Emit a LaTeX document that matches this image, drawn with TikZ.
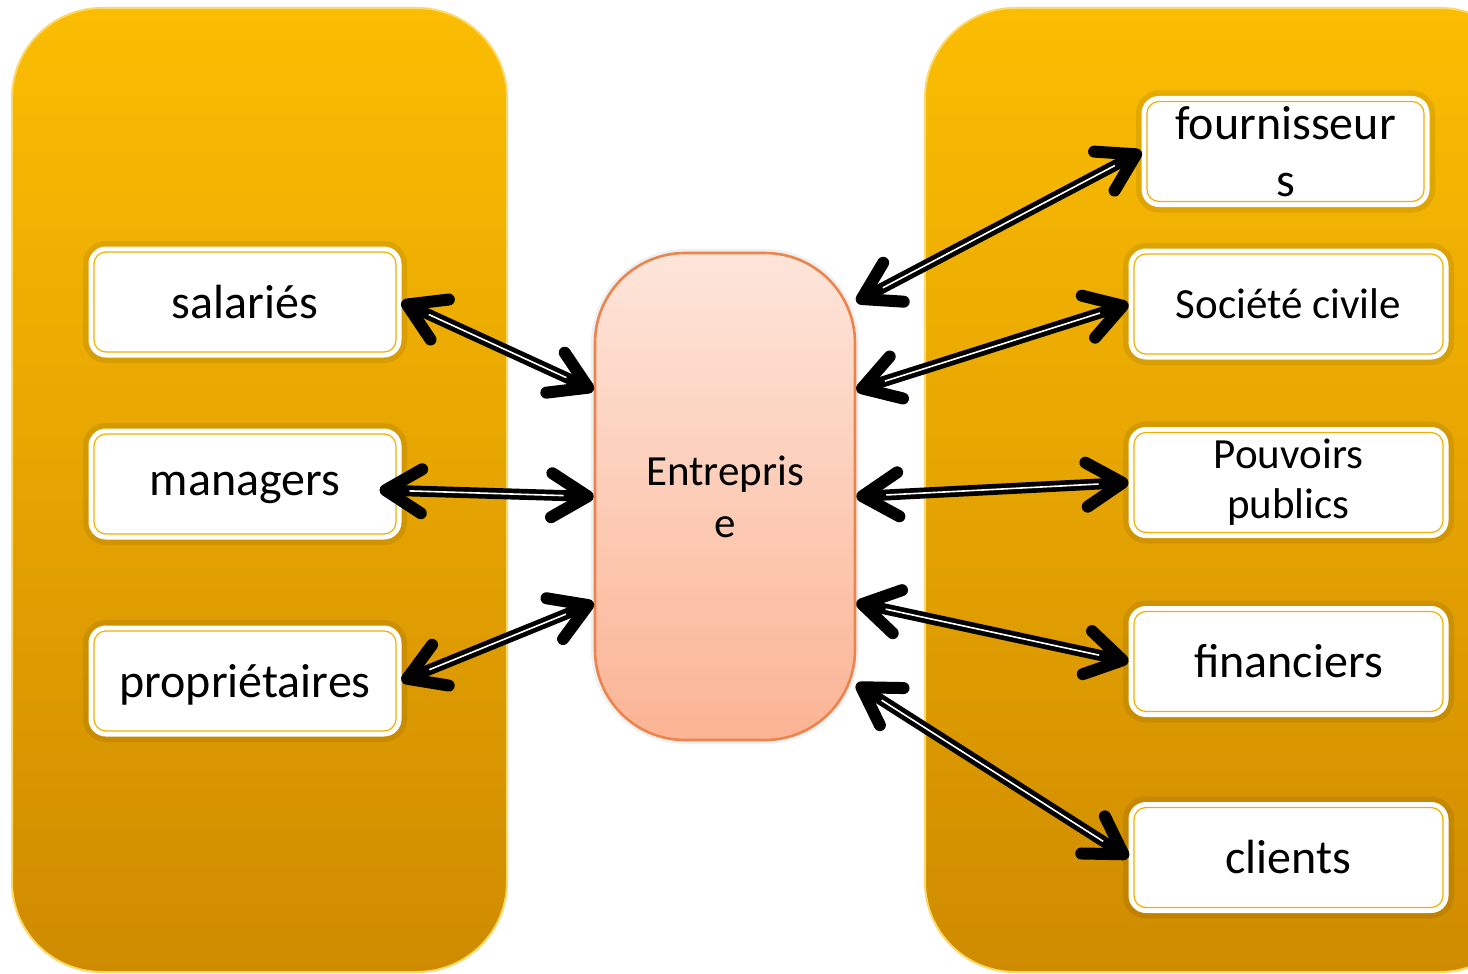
\documentclass[tikz,border=0pt]{standalone}
\usepackage{fontspec}
\setmainfont{Carlito}
\usetikzlibrary{arrows.meta}

\definecolor{panelTop}{RGB}{251,189,2}
\definecolor{panelBot}{RGB}{207,139,0}
\definecolor{boxLine}{RGB}{240,176,0}
\definecolor{entTop}{RGB}{253,229,218}
\definecolor{entBot}{RGB}{251,180,148}
\definecolor{entLine}{RGB}{236,132,78}

\newcommand{\bigtxt}{\fontsize{24}{28.5}\selectfont}
\newcommand{\midtxt}{\fontsize{21.5}{25}\selectfont}

\begin{document}
\begin{tikzpicture}[x=0.5pt, y=-0.5pt,
    panel/.style={top color=panelTop, bottom color=panelBot,
                  draw=panelTop!60!white, line width=1pt, rounded corners=45pt},
    box/.style={rectangle, rounded corners=8pt, fill=white, draw=white,
                line width=1.5pt, minimum height=54pt, align=center, font=\bigtxt,
                preaction={draw=black, draw opacity=.08, line width=7pt},
                path picture={\draw[boxLine, line width=.6pt, rounded corners=6pt]
                  ([shift={(2pt,-2pt)}]path picture bounding box.north west) rectangle
                  ([shift={(-2pt,2pt)}]path picture bounding box.south east);}},
    ent/.style={rectangle, rounded corners=45pt, top color=entTop, bottom color=entBot,
                draw=entLine, line width=1.3pt, minimum width=130pt, minimum height=243.5pt,
                align=center, font=\fontsize{21.5}{26}\selectfont,
                preaction={draw=black, draw opacity=.06, line width=4pt}},
    link/.style={draw=black, line width=5.5pt,
                 {Straight Barb[length=18pt,width=22pt,line width=6pt,round]}-{Straight Barb[length=18pt,width=22pt,line width=6pt,round]},
                 postaction={draw=white, line width=.8pt, shorten <=15pt, shorten >=15pt, arrows=-}}]

\useasboundingbox (0,0) rectangle (1468,974);
\clip (0,0) rectangle (1468,974);
\fill[white] (0,0) rectangle (1468,974);

% the two stakeholder panels
\path[panel] (12,8) rectangle (507,972);
\path[panel] (925,8) rectangle (1530,972);

% Entreprise in the middle
\node[ent] (ent) at (725,496.5) {Entrepris\\e};

% left side
\node[box, minimum width=155pt] (sal) at (245,302) {salariés};
\node[box, minimum width=155pt, text depth=0pt] (man) at (245,484) {managers};
\node[box, minimum width=155pt, text depth=0pt] (pro) at (245,681) {propriétaires};

% right side
\node[box, minimum width=142.5pt] (fou) at (1285.5,151.5) {fournisseur\\s};
\node[box, minimum width=158.5pt, font=\midtxt] (soc) at (1288.5,304) {Société civile};
\node[box, minimum width=158.5pt, font=\midtxt] (pou) at (1288.5,482.5) {Pouvoirs\\publics};
\node[box, minimum width=158.5pt] (fin) at (1288.5,661.5) {financiers};
\node[box, minimum width=158.5pt] (cli) at (1288.5,857.5) {clients};

\foreach \from/\to in {sal.east/ent.141, pro.east/ent.219,
                       ent.56/fou.west, ent.39/soc.west, ent.0/pou.west,
                       ent.321/fin.west, ent.305/cli.west}
    \draw[link] (\from) -- (\to);

\draw[link] ([xshift=-11pt,yshift=-3pt]man.east) -- (ent.180);

\end{tikzpicture}
\end{document}
